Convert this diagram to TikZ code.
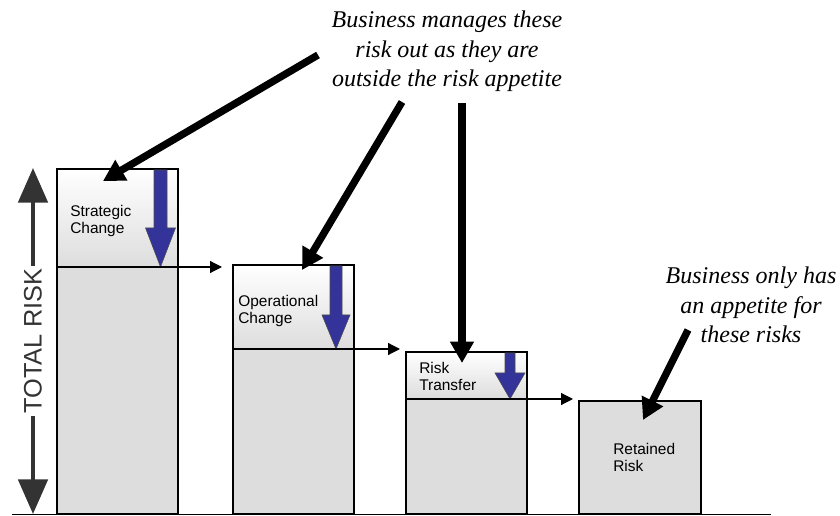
\documentclass[tikz,border=0pt]{standalone}
\usepackage{fontspec}
\setmainfont{Liberation Serif}
\setsansfont{Liberation Sans}
\usetikzlibrary{arrows.meta}

\definecolor{cutblue}{RGB}{51,51,153}
\definecolor{bargray}{RGB}{221,221,221}
\definecolor{riskgray}{RGB}{51,51,51}

\tikzset{
  lowbox/.style={draw=black, line width=1.2pt, fill=bargray},
  topbox/.style={draw=black, line width=1.2pt, top color=white, bottom color=bargray},
  cutarrow/.style={fill=cutblue, draw=black!70, line width=0.4pt},
  flowline/.style={line width=0.9pt, -{Triangle[length=9pt,width=9pt]}},
  pointer/.style={line width=5.5pt, -{Triangle[length=16pt,width=17pt]}},
  boxlabel/.style={font=\sffamily\fontsize{11.6}{12.75}\selectfont, align=left, anchor=north west, inner sep=0pt},
  note/.style={font=\itshape\fontsize{18}{22}\selectfont, align=center, anchor=north, inner sep=0pt},
}

\begin{document}
\begin{tikzpicture}[x=0.75pt,y=0.75pt,yscale=-1,xscale=1]
\useasboundingbox (0,0) rectangle (840,516);

%Shapes: Bars
\draw [lowbox] (57,267) rectangle (178,514) ;
\draw [topbox] (57,169) rectangle (178,267) ;
\draw [lowbox] (233,349) rectangle (354,514) ;
\draw [topbox] (233,265) rectangle (354,349) ;
\draw [lowbox] (406,399) rectangle (527,514) ;
\draw [topbox] (406,352) rectangle (527,399) ;
\draw [lowbox] (579,401) rectangle (701,514) ;

%Shapes: Blue arrows
\draw [cutarrow] (154,170) -- (167,170) -- (167,228) -- (175.5,228) -- (160.5,267) -- (145.5,228) -- (154,228) -- cycle ;
\draw [cutarrow] (330,266) -- (342,266) -- (342,315) -- (350,315) -- (336,349) -- (322,315) -- (330,315) -- cycle ;
\draw [cutarrow] (505,353) -- (515,353) -- (515,373) -- (525,373) -- (510,399) -- (495,373) -- (505,373) -- cycle ;

%Straight Line: ground
\draw [line width=1.2pt] (12,514.5) -- (771,514.5) ;

% Text Node
\node [boxlabel] (strategic) at (70,205) {Strategic\\Change};
% Text Node
\node [boxlabel] (operational) at (238,295) {Operational\\Change};
% Text Node
\node [boxlabel] (transfer) at (419,362) {Risk\\Transfer};
% Text Node
\node [boxlabel] (retained) at (613,443) {Retained\\Risk};

%Straight Lines: flow to next bar
\coordinate (d1) at (57,267);
\coordinate (e1) at (222,267);
\coordinate (d2) at (233,349);
\coordinate (e2) at (400,349);
\coordinate (d3) at (406,399);
\coordinate (e3) at (573,399);
\draw [flowline] (d1) -- (e1) ;
\draw [flowline] (d2) -- (e2) ;
\draw [flowline] (d3) -- (e3) ;

%Double arrow: total risk
\coordinate (rtop) at (33,168);
\coordinate (rbot) at (33,514);
\draw [riskgray, line width=3pt, {Triangle[length=26pt,width=22pt]}-{Triangle[length=26pt,width=22pt]}] (rtop) -- (rbot)
  node [midway, rotate=90, fill=white, inner sep=2pt, text=riskgray, font=\sffamily\fontsize{19}{22}\selectfont] (total) {TOTAL RISK};

% Text Node
\node [note] (manage) at (447,11) {Business manages these\\risk out as they are\\outside the risk appetite};
% Text Node
\node [note] (appetite) at (751,267) {Business only has\\an appetite for\\these risks};

%Straight Lines: pointers
\coordinate (p1) at (318,55);
\coordinate (q1) at (103,181);
\coordinate (p2) at (402,102);
\coordinate (q2) at (302,270);
\coordinate (p3) at (462,103);
\coordinate (q3) at (462,363);
\coordinate (p4) at (688,330);
\coordinate (q4) at (643,420);
\draw [pointer] (p1) -- (q1) ;
\draw [pointer] (p2) -- (q2) ;
\draw [pointer] (p3) -- (q3) ;
\draw [pointer] (p4) -- (q4) ;

\end{tikzpicture}
\end{document}
